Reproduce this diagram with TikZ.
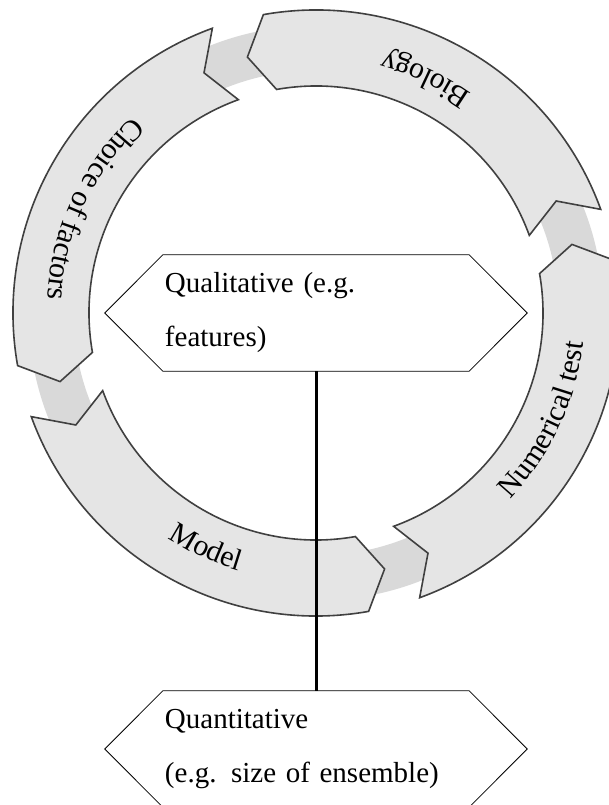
\documentclass[tikz,border=0pt]{standalone}
\usepackage{fontspec}
\setmainfont{Liberation Serif}
\usetikzlibrary{decorations.text}
\definecolor{ringgray}{gray}{0.85}
\definecolor{arrowfill}{gray}{0.9}
\definecolor{arrowline}{gray}{0.25}
\newcommand\ringfont{\fontsize{30}{32}\selectfont}
\begin{document}
\begin{tikzpicture}[x=1pt,y=1pt,
  cyclearrow/.style={fill=arrowfill, draw=arrowline, line width=1.6pt, line join=miter},
  hexbody/.style={text width=302pt, align=left, inner xsep=2pt, inner ysep=0pt,
    minimum height=116pt, font=\fontsize{29}{54}\selectfont},
  hexline/.style={draw=black, line width=0.8pt},
  link/.style={draw=black, line width=3pt}]
\useasboundingbox (-316,-492) rectangle (293,313);
% background ring
\draw[ringgray, line width=45pt] (0,0) circle[radius=265];
% four curved arrows running counterclockwise
\foreach \a/\ap/\b/\bp in {20/25/100/105, 110/115/190/195, 200/205/280/285, 290/295/370/375}{
  \draw[cyclearrow] (\a:303) arc[start angle=\a, end angle=\b, radius=303]
    -- (\bp:265) -- (\b:227) arc[start angle=\b, end angle=\a, radius=227]
    -- (\ap:265) -- cycle;
}
% labels set along the arcs
\path[decorate, decoration={text along path, text={|\ringfont|Biology}, text align=center}]
  (25:269) arc[start angle=25, end angle=105, radius=269];
\path[decorate, decoration={text along path, text={|\ringfont|Choice of factors}, text align=center}]
  (115:269) arc[start angle=115, end angle=195, radius=269];
\path[decorate, decoration={text along path, text={|\ringfont|Model}, text align=center}]
  (205:269) arc[start angle=205, end angle=285, radius=269];
\path[decorate, decoration={text along path, text={|\ringfont|Numerical test}, text align=center}]
  (295:269) arc[start angle=295, end angle=375, radius=269];
% the two hexagonal boxes
\node[hexbody] (q1) at (0,0) {Qualitative (e.g.\\features)};
\node[hexbody] (q2) at (0,-436) {Quantitative\\(e.g. size of ensemble)};
\foreach \n in {q1,q2}{
  \draw[hexline] (\n.north west) -- (\n.north east) -- ([xshift=58pt]\n.east)
    -- (\n.south east) -- (\n.south west) -- ([xshift=-58pt]\n.west) -- cycle;
}
% connector between the boxes
\draw[link] (q1.south) -- (q2.north);
\end{tikzpicture}
\end{document}
